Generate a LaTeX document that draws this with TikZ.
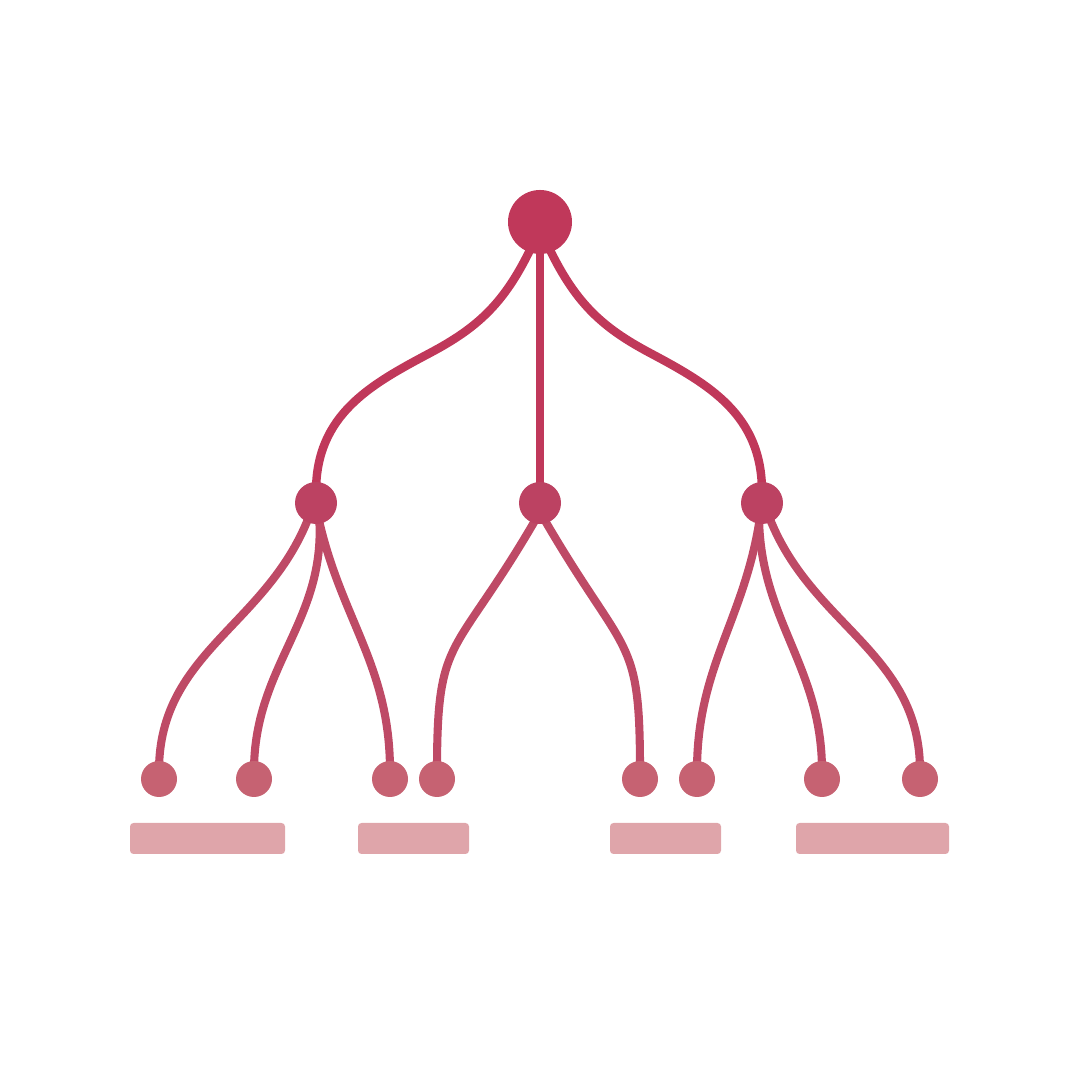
\documentclass[tikz,border=0pt]{standalone}
\usepackage{tikz}
\usetikzlibrary{positioning, backgrounds}

\definecolor{rootred}{RGB}{192,56,90}
\definecolor{midred}{RGB}{188,66,98}
\definecolor{leafred}{RGB}{198,98,114}
\definecolor{barpink}{RGB}{223,165,170}

\begin{document}
\begin{tikzpicture}[
    rootdot/.style={circle, fill=rootred, inner sep=0pt, minimum size=0.64cm},
    middot/.style={circle, fill=midred, inner sep=0pt, minimum size=0.42cm},
    leafdot/.style={circle, fill=leafred, inner sep=0pt, minimum size=0.36cm},
    branch/.style={draw=rootred, line width=2.4pt, shorten <=-3pt, shorten >=-3pt},
    twig/.style={draw=midred!75!leafred, line width=2.3pt, shorten <=-3pt, shorten >=-3pt},
    labelbar/.style={fill=barpink, rounded corners=1pt, inner sep=0pt, minimum height=0.31cm}
]

    % Rahmen
    \useasboundingbox (0,0) rectangle (10.8,10.8);

    % Hoehen der Ebenen
    \def\yRoot{8.58}
    \def\yMid{5.77}
    \def\yLeaf{3.01}
    \def\yBar{2.415}

    % Knoten
    \node[rootdot] (root) at (5.40,\yRoot) {};
    \node[middot] (lmid) at (3.16,\yMid) {};
    \node[middot] (cmid) at (5.40,\yMid) {};
    \node[middot] (rmid) at (7.62,\yMid) {};

    \foreach \x [count=\i] in {1.59, 2.54, 3.90, 4.37, 6.40, 6.97, 8.22, 9.20}
        \node[leafdot] (leaf\i) at (\x,\yLeaf) {};

    % Balken unten
    \node[labelbar, minimum width=1.55cm] (bar1) at (2.075,\yBar) {};
    \node[labelbar, minimum width=1.11cm] (bar2) at (4.135,\yBar) {};
    \node[labelbar, minimum width=1.11cm] (bar3) at (6.655,\yBar) {};
    \node[labelbar, minimum width=1.53cm] (bar4) at (8.725,\yBar) {};

    % Wendepunkte der grossen Kurven
    \coordinate (lbend) at (4.30,7.27);
    \coordinate (rbend) at (6.50,7.27);

    \begin{scope}[on background layer]
        % Aeste von der Wurzel
        \draw[branch] (root.250) to[out=245, in=28] (lbend) to[out=208, in=90] (lmid.north);
        \draw[branch] (root.south) -- (cmid.north);
        \draw[branch] (root.290) to[out=295, in=152] (rbend) to[out=332, in=90] (rmid.north);

        % Zweige links
        \draw[twig] (lmid.245) to[out=250, in=90] (leaf1.north);
        \draw[twig] (lmid.280) to[out=275, in=90] (leaf2.north);
        \draw[twig] (lmid.280) to[out=282, in=90] (leaf3.north);

        % Zweige Mitte
        \draw[twig] (cmid.252) to[out=240, in=90, out looseness=1.6, in looseness=1.3] (leaf4.north);
        \draw[twig] (cmid.288) to[out=300, in=90, out looseness=1.6, in looseness=1.3] (leaf5.north);

        % Zweige rechts
        \draw[twig] (rmid.262) to[out=262, in=90] (leaf6.north);
        \draw[twig] (rmid.262) to[out=270, in=90] (leaf7.north);
        \draw[twig] (rmid.295) to[out=290, in=90] (leaf8.north);
    \end{scope}

\end{tikzpicture}
\end{document}
